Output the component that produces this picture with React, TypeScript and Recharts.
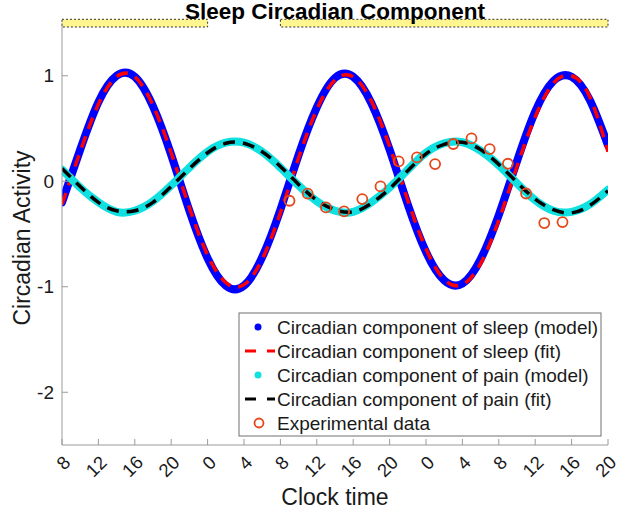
import { LineChart, Line, XAxis, YAxis, ReferenceArea } from 'recharts';

// model and fit curves, sampled every 2 h (hours since midnight of day 1)
const hours = [8, 10, 12, 14, 16, 18, 20, 22, 24, 26, 28, 30, 32, 34, 36, 38, 40, 42, 44, 46, 48, 50, 52, 54, 56, 58, 60, 62, 64, 66, 68];
const sleepModel = [-0.2, 0.3, 0.75, 1.0, 0.99, 0.71, 0.25, -0.28, -0.73, -0.99, -0.99, -0.72, -0.27, 0.25, 0.7, 0.98, 0.99, 0.74, 0.3, -0.22, -0.67, -0.94, -0.97, -0.74, -0.32, 0.19, 0.66, 0.95, 0.99, 0.77, 0.34];
const sleepFit = [-0.22, 0.28, 0.73, 0.99, 0.99, 0.72, 0.27, -0.25, -0.7, -0.96, -0.98, -0.74, -0.3, 0.22, 0.68, 0.96, 0.99, 0.76, 0.33, -0.18, -0.64, -0.93, -0.98, -0.78, -0.37, 0.14, 0.61, 0.93, 1.0, 0.8, 0.28];
const painModel = [0.11, -0.06, -0.2, -0.29, -0.28, -0.19, -0.04, 0.13, 0.28, 0.365, 0.365, 0.28, 0.13, -0.04, -0.19, -0.28, -0.29, -0.2, -0.06, 0.11, 0.27, 0.36, 0.37, 0.29, 0.15, -0.02, -0.18, -0.28, -0.29, -0.22, -0.08];
const painFit = [0.12, -0.05, -0.2, -0.28, -0.28, -0.2, -0.05, 0.12, 0.27, 0.36, 0.36, 0.28, 0.14, -0.03, -0.18, -0.27, -0.29, -0.21, -0.07, 0.1, 0.26, 0.35, 0.37, 0.3, 0.16, -0.01, -0.17, -0.27, -0.3, -0.23, -0.09];

const expHours = [33, 35, 37, 39, 41, 43, 45, 47, 49, 51, 53, 55, 57, 59, 61, 63];
const expValues = [-0.185, -0.118, -0.248, -0.286, -0.169, -0.049, 0.188, 0.226, 0.163, 0.353, 0.406, 0.305, 0.166, -0.116, -0.396, -0.387];

const xTicks = [8, 12, 16, 20, 24, 28, 32, 36, 40, 44, 48, 52, 56, 60, 64, 68];
const yTicks = [-2, -1, 0, 1];
const lightStart = [8, 32];
const lightEnd = [24, 68];

const legendNames = [
  'Circadian component of sleep (model)',
  'Circadian component of sleep (fit)',
  'Circadian component of pain (model)',
  'Circadian component of pain (fit)',
  'Experimental data',
];

const rows = hours.map((t, i) => ({
  t,
  sleepModel: sleepModel[i],
  sleepFit: sleepFit[i],
  painModel: painModel[i],
  painFit: painFit[i],
}));
const expRows = expHours.map((t, i) => ({ t, exp: expValues[i] }));

const FONT = '"Liberation Sans", Arial, Helvetica, sans-serif';
const AXIS = '#9a9a9a';
const INK = '#1a1a1a';
const BLUE = '#0000ff';
const CYAN = '#10e0e0';
const RED = '#ff0000';
const DOT = '#e5461a';

function BottomTick({ x, y, payload }: any) {
  return (
    <g>
      <line x1={x} x2={x} y1={y} y2={y - 6} stroke={AXIS} />
      <text
        x={x + 5}
        y={y + 14}
        transform={`rotate(-45 ${x + 5} ${y + 14})`}
        textAnchor="end"
        dominantBaseline="central"
        fontSize={18.5}
        fontFamily={FONT}
        fill={INK}
      >
        {payload.value % 24}
      </text>
    </g>
  );
}

function TopTick({ x, y }: any) {
  return <line x1={x} x2={x} y1={y} y2={y + 6} stroke={AXIS} />;
}

function LeftTick({ x, y, payload }: any) {
  return (
    <g>
      <line x1={x} x2={x + 6} y1={y} y2={y} stroke={AXIS} />
      <text x={x - 8} y={y} textAnchor="end" dominantBaseline="central" fontSize={19} fontFamily={FONT} fill={INK}>
        {payload.value}
      </text>
    </g>
  );
}

function RightTick({ x, y }: any) {
  return <line x1={x} x2={x - 6} y1={y} y2={y} stroke={AXIS} />;
}

function LegendBox() {
  const top = 313;
  const step = 24;
  return (
    <g fontFamily={FONT} fontSize={19} fill={INK}>
      <rect x={239} y={top} width={362} height={123} fill="#fff" stroke="#707070" />
      {legendNames.map((name, i) => {
        const cy = top + 14 + i * step;
        return (
          <g key={name}>
            {i === 0 && <circle cx={258} cy={cy} r={3.5} fill={BLUE} />}
            {i === 2 && <circle cx={258} cy={cy} r={3.5} fill={CYAN} />}
            {(i === 1 || i === 3) && (
              <line x1={245} x2={275} y1={cy} y2={cy} stroke={i === 1 ? RED : '#000'} strokeWidth={3} strokeDasharray="11 11 8" />
            )}
            {i === 4 && <circle cx={259} cy={cy} r={4.5} fill="none" stroke={DOT} strokeWidth={1.8} />}
            <text x={277} y={cy} dominantBaseline="central">
              {name}
            </text>
          </g>
        );
      })}
    </g>
  );
}

export default function App() {
  return (
    <div style={{ position: 'absolute', left: 0, top: 0, width: 624, height: 512, background: '#fff' }}>
      <LineChart width={624} height={512} data={rows} margin={{ top: 23, right: 16, bottom: 17, left: 0 }}>
        <XAxis
          dataKey="t"
          type="number"
          domain={[8, 68]}
          ticks={xTicks}
          height={50}
          tickSize={0}
          tickMargin={0}
          stroke={AXIS}
          tick={<BottomTick />}
          interval={0}
          allowDataOverflow
        />
        <XAxis
          xAxisId="top"
          dataKey="t"
          type="number"
          orientation="top"
          domain={[8, 68]}
          ticks={xTicks}
          height={0}
          tickSize={0}
          tickMargin={0}
          stroke={AXIS}
          tick={<TopTick />}
          interval={0}
        />
        <YAxis
          type="number"
          domain={[-2.5, 1.5]}
          ticks={yTicks}
          width={62}
          tickSize={0}
          tickMargin={0}
          stroke={AXIS}
          tick={<LeftTick />}
          interval={0}
          allowDataOverflow
        />
        <YAxis
          yAxisId="right"
          orientation="right"
          type="number"
          domain={[-2.5, 1.5]}
          ticks={yTicks}
          width={0}
          tickSize={0}
          tickMargin={0}
          stroke={AXIS}
          tick={<RightTick />}
          interval={0}
        />
        {lightStart.map((s, i) => (
          <ReferenceArea
            key={s}
            x1={s}
            x2={lightEnd[i]}
            y1={1.462}
            y2={1.535}
            ifOverflow="visible"
            fill="#fff68f"
            fillOpacity={1}
            stroke="#333"
            strokeDasharray="2 2"
          />
        ))}
        <Line dataKey="sleepModel" type="natural" stroke={BLUE} strokeWidth={8} strokeLinecap="round" dot={false} isAnimationActive={false} />
        <Line dataKey="sleepFit" type="natural" stroke={RED} strokeWidth={3.5} strokeDasharray="12 8" dot={false} isAnimationActive={false} />
        <Line dataKey="painModel" type="natural" stroke={CYAN} strokeWidth={8} strokeLinecap="round" dot={false} isAnimationActive={false} />
        <Line dataKey="painFit" type="natural" stroke="#000" strokeWidth={3.5} strokeDasharray="12 8" dot={false} isAnimationActive={false} />
        <Line
          data={expRows}
          dataKey="exp"
          stroke="none"
          dot={{ r: 5, fill: 'none', stroke: DOT, strokeWidth: 1.8 }}
          isAnimationActive={false}
        />
      </LineChart>
      <svg width={624} height={512} style={{ position: 'absolute', left: 0, top: 0, pointerEvents: 'none' }}>
        <text x={335} y={19} textAnchor="middle" fontFamily={FONT} fontWeight="bold" fontSize={22.5} fill="#000">
          Sleep Circadian Component
        </text>
        <text
          x={22}
          y={238}
          transform="rotate(-90 22 238)"
          textAnchor="middle"
          dominantBaseline="central"
          fontFamily={FONT}
          fontSize={23}
          fill={INK}
        >
          Circadian Activity
        </text>
        <text x={335} y={505} textAnchor="middle" fontFamily={FONT} fontSize={23} fill={INK}>
          Clock time
        </text>
        <LegendBox />
      </svg>
    </div>
  );
}
